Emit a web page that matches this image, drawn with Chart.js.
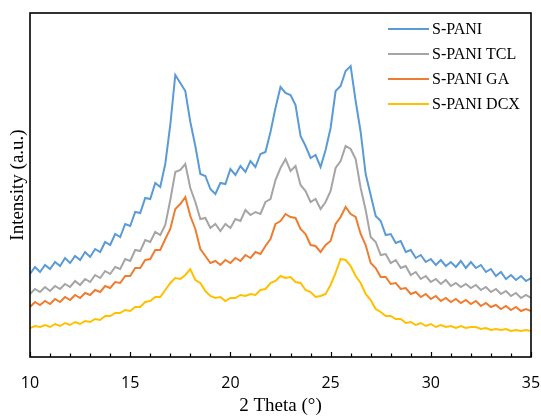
<!DOCTYPE html>
<html>
<head>
<meta charset="utf-8">
<script src="https://cdn.jsdelivr.net/npm/chart.js@4.4.1/dist/chart.umd.min.js"></script>
<style>
  html, body { margin: 0; padding: 0; background: #fff; }
  #chart { display: block; }
</style>
</head>
<body>
<canvas id="chart" width="541" height="418"></canvas>
<script>
// 2 theta positions, 10 -> 35 in steps of 0.25
var two_theta = [];
for (var i = 0; i <= 100; i++) two_theta.push(10 + i * 0.25);

var series_names = ['S-PANI', 'S-PANI TCL', 'S-PANI GA', 'S-PANI DCX'];
var series_colors = ['#5B9BD5', '#A5A5A5', '#ED7D31', '#FFC000'];

// intensities (arbitrary units)
var s_pani = [
  83, 90, 85, 92, 88, 95, 91, 99, 94, 101, 97, 105, 100, 108, 105, 115, 112, 123, 120, 133,
  131, 145, 144, 159, 158, 174, 170, 193, 232, 282, 274, 266, 235, 211, 183, 181, 168, 163, 174, 173,
  188, 182, 191, 185, 196, 190, 203, 205, 225, 249, 270, 264, 262, 252, 221, 211, 199, 202, 190, 207,
  229, 266, 271, 286, 291, 256, 225, 183, 162, 141, 136, 122, 123, 114, 116, 105, 107, 99, 102, 95,
  98, 92, 97, 91, 95, 90, 96, 89, 95, 89, 92, 85, 88, 81, 85, 78, 82, 77, 81, 76,
  79
];
var s_pani_tcl = [
  63, 68, 65, 70, 66, 71, 68, 73, 70, 76, 72, 78, 75, 82, 79, 86, 83, 90, 88, 98,
  96, 107, 106, 117, 115, 125, 122, 132, 157, 185, 187, 193, 169, 155, 138, 139, 129, 133, 126, 133,
  129, 138, 136, 147, 142, 145, 143, 155, 158, 177, 189, 198, 186, 191, 172, 166, 155, 158, 148, 155,
  166, 189, 196, 211, 208, 198, 169, 147, 120, 115, 102, 103, 94, 97, 89, 91, 82, 85, 78, 81,
  75, 78, 73, 77, 71, 74, 70, 73, 69, 72, 67, 70, 65, 68, 63, 66, 61, 64, 59, 62,
  59
];
var s_pani_ga = [
  50, 55, 52, 56, 53, 58, 55, 60, 57, 62, 59, 64, 62, 67, 65, 71, 69, 75, 74, 81,
  81, 89, 89, 97, 98, 107, 107, 118, 128, 148, 153, 160, 141, 128, 108, 101, 94, 96, 92, 97,
  94, 99, 96, 102, 99, 105, 103, 111, 118, 133, 136, 143, 140, 139, 128, 123, 112, 111, 105, 112,
  116, 133, 140, 150, 143, 140, 123, 112, 94, 89, 80, 80, 73, 74, 68, 69, 63, 65, 60, 63,
  58, 61, 56, 59, 55, 58, 54, 57, 53, 56, 51, 54, 50, 52, 48, 51, 47, 50, 46, 48,
  46
];
var s_pani_dcx = [
  29, 31, 30, 32, 30, 33, 31, 34, 32, 35, 33, 36, 35, 38, 37, 41, 41, 44, 44, 47,
  46, 50, 50, 55, 56, 60, 60, 67, 74, 79, 78, 82, 88, 77, 74, 66, 61, 59, 60, 56,
  59, 59, 62, 61, 63, 62, 67, 68, 74, 76, 81, 79, 80, 75, 74, 67, 65, 60, 61, 63,
  72, 84, 98, 97, 91, 81, 74, 63, 57, 48, 45, 41, 41, 38, 38, 34, 35, 32, 34, 31,
  33, 30, 32, 30, 31, 29, 31, 29, 30, 30, 28, 29, 27, 28, 27, 28, 26, 27, 26, 27,
  26
];

var x_ticks = [10, 15, 20, 25, 30, 35];

var serif = '"Liberation Serif", "Times New Roman", serif';

function make_points(ys)
{
    return ys.map((y, k) => ({ x: two_theta[k], y: y }));
}

// box around the plot and small inward ticks on the x axis
var frame_plugin = {
    id: 'frame',
    afterDatasetsDraw(chart) {
        var ctx = chart.ctx;
        var a = chart.chartArea;
        var xs = chart.scales.x;
        ctx.save();
        ctx.strokeStyle = '#000';
        ctx.lineWidth = 1.6;
        ctx.strokeRect(a.left, a.top, a.right - a.left, a.bottom - a.top);
        ctx.lineWidth = 1.2;
        for (var v = 10; v <= 35; v++) {
            var px = Math.round(xs.getPixelForValue(v)) + 0.5;
            var len = (v % 5 === 0) ? 5 : 3.5;
            ctx.beginPath();
            ctx.moveTo(px, a.bottom);
            ctx.lineTo(px, a.bottom - len);
            ctx.stroke();
        }
        ctx.restore();
    },
    afterDraw(chart) {
        // legend, top right inside the plot
        var ctx = chart.ctx;
        ctx.save();
        ctx.font = '16px ' + serif;
        ctx.textBaseline = 'middle';
        ctx.textAlign = 'left';
        chart.data.datasets.forEach((ds, k) => {
            var y = 29 + k * 25;
            ctx.strokeStyle = ds.borderColor;
            ctx.lineWidth = 2;
            ctx.beginPath();
            ctx.moveTo(388, y);
            ctx.lineTo(429, y);
            ctx.stroke();
            ctx.fillStyle = '#000';
            ctx.fillText(ds.label, 432, y + 1);
        });
        ctx.restore();
    }
};

var datasets = [s_pani, s_pani_tcl, s_pani_ga, s_pani_dcx].map((ys, k) => ({
    label: series_names[k],
    data: make_points(ys),
    borderColor: series_colors[k],
    backgroundColor: series_colors[k],
    borderWidth: 2,
    pointRadius: 0,
    tension: 0,
    order: 4 - k
}));

new Chart(document.getElementById('chart'), {
    type: 'line',
    data: { datasets: datasets },
    options: {
        responsive: false,
        animation: false,
        events: [],
        layout: { padding: { top: 13, right: 10, left: 0, bottom: 0 } },
        plugins: { legend: { display: false }, tooltip: { enabled: false } },
        scales: {
            x: {
                type: 'linear',
                min: 10,
                max: 35,
                afterBuildTicks: (s) => { s.ticks = x_ticks.map(v => ({ value: v })); },
                afterFit: (s) => {
                    s.height = 61;
                    s.paddingLeft = 0;
                    s.paddingRight = 0;
                },
                grid: { display: false, drawTicks: false },
                border: { display: false },
                ticks: {
                    padding: 17,
                    maxRotation: 0,
                    color: '#000',
                    font: { family: '"Open Sans", sans-serif', size: 16 }
                },
                title: {
                    display: true,
                    text: '2 Theta (°)',
                    color: '#000',
                    font: { family: serif, size: 19 },
                    padding: { top: 0, bottom: 1 }
                }
            },
            y: {
                min: 0,
                max: 344,
                afterFit: (s) => { s.width = 30; },
                grid: { display: false, drawTicks: false },
                border: { display: false },
                ticks: { display: false },
                title: {
                    display: true,
                    text: 'Intensity (a.u.)',
                    color: '#000',
                    font: { family: serif, size: 19 },
                    padding: { top: 7, bottom: 0 }
                }
            }
        }
    },
    plugins: [frame_plugin]
});
</script>
</body>
</html>
